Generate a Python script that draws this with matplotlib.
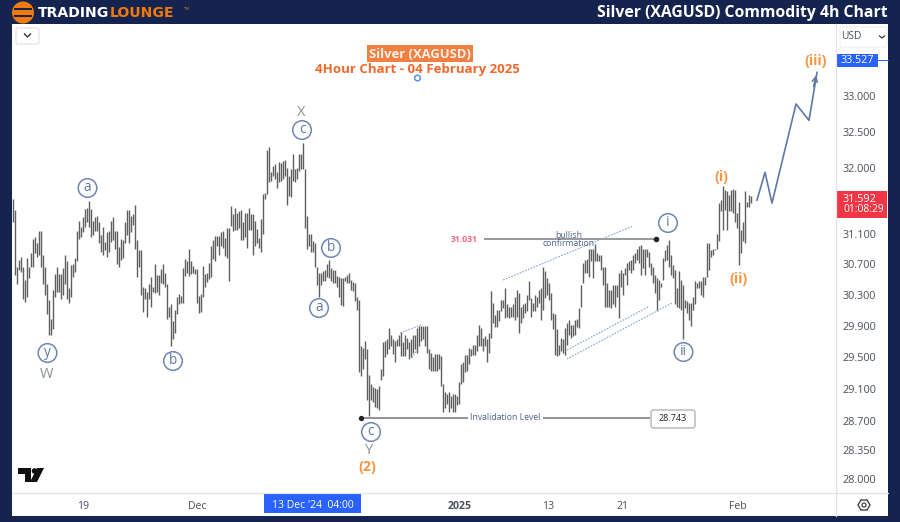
import numpy as np
import matplotlib
matplotlib.use("Agg")
import matplotlib.pyplot as plt
from matplotlib.patches import Circle, Rectangle, FancyBboxPatch, Polygon
from matplotlib.ticker import FixedLocator, FixedFormatter, NullLocator

# (high, low) price of each 4h bar
bars_nov = [(31.57,31.26),(31.42,30.56),(30.67,30.45),(30.76,30.63),(30.80,30.60),(30.67,30.25),(30.50,30.21),(30.79,30.28),
(30.67,30.52),(30.85,30.67),(31.04,30.67),(31.06,30.85),(30.98,30.80),(31.15,30.82),(31.15,30.67),(30.82,30.45),(30.67,30.30),
(30.45,30.06),(30.23,29.79),(29.99,29.79),(30.36,29.86),(30.57,30.28),(30.67,30.34),(30.58,30.34),(30.58,30.25),(30.65,30.30),
(30.82,30.45),(30.74,30.25),(30.39,30.19),(30.69,30.28),(30.71,30.54),(30.78,30.60),(31.15,30.74),(31.28,31.04),(31.20,31.06),
(31.33,31.13),(31.44,31.20),(31.46,31.26),(31.55,31.20),(31.44,31.06),(31.28,31.09),(31.33,31.15),(31.35,31.15),(31.26,30.98),
(31.09,30.87),(31.20,30.82),(31.00,30.89),(31.13,30.80),(31.15,30.87),(31.28,31.00),(31.33,31.02),(31.15,30.91),(31.15,30.71),
(30.93,30.67),(31.04,30.76),(31.02,30.78),(31.26,30.98),(31.42,31.09),(31.42,30.98),(31.35,31.13),(31.37,31.22),(31.50,30.91),
(31.02,30.54),(30.89,30.67),(30.89,30.30),(30.41,30.08),(30.39,30.25),(30.34,30.01),(30.45,30.25),(30.54,30.15),(30.41,30.34),
(30.71,30.32),(30.56,30.34),(30.56,30.30)]
bars_dec_a = [(30.64,30.46),(30.71,30.44),(30.59,30.40),(30.44,29.99),(30.14,30.01),(30.18,29.64),(29.97,29.73),(30.10,29.81),
(30.27,30.05),(30.31,30.18),(30.29,30.20),(30.66,30.20),(30.77,30.55),(30.74,30.59),(30.90,30.55),(30.74,30.57),(30.68,30.59),
(30.64,30.57),(30.64,30.20),(30.29,30.07),(30.31,30.08),(30.68,30.27),(30.57,30.40),(30.59,30.47),(30.72,30.51),(30.94,30.53),
(31.03,30.77),(31.08,30.74),(31.08,30.94),(31.08,30.83),(31.13,30.94),(31.14,30.92),(31.05,30.81),(31.19,30.79),(31.19,30.48),
(31.48,31.21),(31.37,31.14),(31.45,31.16),(31.39,31.16),(31.41,31.19),(31.43,31.03),(31.26,31.03),(31.38,31.07),(31.39,30.92),
(31.45,31.16),(31.37,31.16),(31.37,30.83),(31.28,30.94),(31.17,30.98),(31.05,30.92),(31.30,30.87),(31.64,31.10),(31.66,31.57),
(32.25,31.64),(32.29,31.80),(31.94,31.82),(32.03,31.89),(32.06,31.85),(31.94,31.73),(32.08,31.80),(32.07,31.82),(32.09,31.85),
(32.11,31.89),(32.00,31.50),(31.89,31.62),(31.98,31.60),(32.19,31.82),(31.98,31.80),(32.00,31.85),(32.19,31.96),(32.19,31.98),
(32.34,31.98),(31.98,31.19),(31.35,30.90),(31.10,30.94)]
bars_dec_b = [(31.10,30.87),(31.01,30.87),(30.99,30.67),(30.67,30.43),(30.59,30.28),(30.59,30.43),(30.61,30.48),(30.63,30.48),
(30.70,30.54),(30.76,30.52),(30.65,30.48),(30.63,30.46),(30.63,30.46),(30.55,30.41),(30.53,30.28),(30.52,30.17),(30.52,30.16),
(30.54,30.48),(30.56,30.46),(30.59,30.46),(30.49,30.37),(30.47,30.35),(30.46,30.22),(30.28,30.11),(30.24,29.31),(29.64,29.27),
(29.62,29.35),(29.71,29.48),(29.60,28.96),(29.28,28.76),(29.16,28.96),(29.12,28.94),(29.11,28.88),(29.10,28.86),(29.14,28.84),
(29.35,29.21),(29.69,29.27),(29.71,29.50),(29.73,29.54),(29.88,29.60),(29.79,29.64),(29.73,29.54),(29.71,29.44),(29.73,29.64),
(29.79,29.64),(29.82,29.52),(29.69,29.52),(29.78,29.52),(29.75,29.60),(29.69,29.48),(29.73,29.50),(29.78,29.56),(29.78,29.60),
(29.88,29.56),(29.90,29.64),(29.90,29.71),(29.90,29.73),(29.90,29.64),(29.90,29.56),(29.60,29.35),(29.56,29.33),(29.50,29.33),
(29.54,29.33),(29.54,29.33),(29.54,29.35),(29.52,29.14),(29.16,28.82),(29.06,28.86),(29.04,28.92),(29.06,28.82)]
bars_jan_a = [(29.02,28.86),(29.04,28.82),(29.04,28.82),(29.02,28.90),(29.19,28.92),(29.41,29.16),(29.44,29.19),(29.53,29.31),
(29.53,29.33),(29.62,29.41),(29.60,29.52),(29.65,29.53),(29.65,29.53),(29.79,29.58),(29.91,29.64),(29.88,29.64),(29.75,29.58),
(29.77,29.64),(29.73,29.44),(29.81,29.56),(30.35,29.75),(30.19,29.94),(30.04,29.89),(30.11,29.89),(30.11,29.96),(30.24,30.09),
(30.24,30.13),(30.39,30.00),(30.18,30.02),(30.15,30.00),(30.15,30.02),(30.18,30.02),(30.28,29.98),(30.37,30.02),(30.33,29.81),
(30.15,29.94),(30.18,30.00),(30.19,30.07),(30.30,30.09),(30.48,30.24),(30.26,30.02),(30.19,30.09),(30.30,30.09),(30.28,30.15),
(30.37,30.19),(30.39,29.98),(30.67,30.11),(30.61,30.26),(30.52,30.30),(30.46,30.24),(30.33,29.98),(30.07,29.86),(30.05,29.53),
(29.86,29.52),(29.66,29.53),(29.75,29.58),(29.73,29.56),(29.87,29.53),(29.94,29.66),(29.98,29.79),(29.91,29.75),(29.91,29.77),
(29.98,29.79),(29.99,29.89),(30.13,29.88),(30.43,30.15),(30.72,30.46),(30.76,30.59),(30.77,30.59),(30.91,30.54),(30.91,30.74),
(30.91,30.52),(30.97,30.74),(30.85,30.74),(30.83,30.74)]
bars_jan_b = [(30.82,30.63),(30.67,30.43),(30.67,30.15),(30.46,30.15),(30.37,30.15),(30.37,30.13),(30.43,30.18),(30.43,30.15),
(30.43,30.28),(30.59,30.00),(30.63,30.41),(30.59,30.30),(30.65,30.56),(30.72,30.43),(30.74,30.63),(30.76,30.59),(30.82,30.63),
(30.85,30.72),(30.91,30.76),(30.94,30.72),(30.96,30.56),(30.91,30.65),(30.91,30.56),(30.90,30.80),(30.87,30.67),(30.72,30.56),
(30.67,30.46),(30.56,30.33),(30.52,30.09),(30.50,30.24),(30.46,30.41),(30.79,30.50),(30.89,30.74),(30.96,30.76),(31.03,30.67),
(30.82,30.56),(30.69,30.52),(30.63,30.18),(30.39,30.15),(30.61,30.13),(30.50,30.11),(30.43,29.73),(30.24,30.13),(30.22,30.07),
(30.19,29.98),(30.19,29.90),(30.28,30.11),(30.48,30.18),(30.46,30.39),(30.48,30.39),(30.48,30.30),(30.54,30.28),(30.54,30.43),
(30.98,30.54),(30.98,30.63),(30.89,30.80),(30.91,30.82),(30.91,30.89),(31.11,30.91),(31.52,31.01),(31.56,31.41),(31.75,31.16),
(31.70,31.43),(31.68,31.16),(31.63,31.41),(31.70,31.41),(31.71,31.38),(31.70,31.27),(31.38,31.18),(31.54,30.69),(31.16,30.85),
(31.27,31.01),(31.68,30.98),(31.54,31.47),(31.63,31.47),(31.61,31.52)]

price_ticks = [28.0, 28.35, 28.7, 29.1, 29.5, 29.9, 30.3, 30.7, 31.1, 32.0, 32.5, 33.0]
date_labels = ["19", "Dec", "2025", "13", "21", "Feb"]
date_bars = [35, 92, 223.5, 267.5, 305, 362.5]
proj_bar = [372, 376, 379.5, 391.5, 398, 402]
proj_price = [31.56, 31.94, 31.52, 32.89, 32.66, 33.34]
invalidation = 28.743
confirmation = 31.031
target = 33.527
last_price = 31.592

NAVY = "#14244f"
BAR = "#5e5e5e"
WAVE = "#6f86b3"
WTXT = "#5e76a5"
ORG = "#f9943f"
plt.rcParams["font.family"] = ["Open Sans", "DejaVu Sans"]

fig = plt.figure(figsize=(9, 5.22), dpi=100, facecolor=NAVY)
W, H = 900, 522

# white panel in pixel coordinates
ov_bg = fig.add_axes([0, 0, 1, 1], zorder=0)
ov_bg.set_xlim(0, W); ov_bg.set_ylim(H, 0); ov_bg.axis("off")
ov_bg.add_patch(Rectangle((12, 24), 876, 492, fc="white", ec="none"))

ax = fig.add_axes([12/W, 1-493/H, (836-12)/W, (493-24)/H], zorder=1)
ax.patch.set_alpha(0)
for s in ax.spines.values():
    s.set_visible(False)
bars = bars_nov + bars_dec_a + bars_dec_b + bars_jan_a + bars_jan_b
highs = np.array([b[0] for b in bars])
lows = np.array([b[1] for b in bars])
xs = np.arange(len(bars))
ax.vlines(xs, lows, highs, color=BAR, lw=1.0, zorder=2)
ax.set_yscale("log")
ax.set_xlim(-0.5, 411.5)
ax.set_ylim(27.83, 34.04)
ax.yaxis.tick_right()
ax.yaxis.set_major_locator(FixedLocator(price_ticks))
ax.yaxis.set_major_formatter(FixedFormatter([f"{p:.3f}" for p in price_ticks]))
ax.yaxis.set_minor_locator(NullLocator())
ax.tick_params(axis="y", length=0, pad=5, labelsize=7.8, labelcolor="#4a4f5a")
ax.set_xticks(date_bars)
ax.set_xticklabels(date_labels)
ax.tick_params(axis="x", length=0, pad=5.5, labelsize=7.6, labelcolor="#4a4f5a")
ax.get_xticklabels()[2].set_fontweight("bold")

ax.hlines(invalidation, 174, 318.5, color="#777777", lw=1.1, zorder=1)
ax.hlines(confirmation, 235.5, 321.5, color="#888888", lw=1.2, zorder=1)
ax.plot([174], [invalidation], "o", ms=2.8, color="#222222", zorder=3)
ax.plot([321.5], [confirmation], "o", ms=3, color="#222222", zorder=3)
ax.plot(proj_bar, proj_price, color="#5f78a8", lw=1.2, zorder=3)
ax.annotate("", xy=(proj_bar[-1], proj_price[-1]), xytext=(proj_bar[-2] + 2, 33.1),
            arrowprops=dict(arrowstyle="->", color="#5f78a8", lw=1.2, mutation_scale=9), zorder=3)

# overlay for annotations and furniture
ov = fig.add_axes([0, 0, 1, 1], zorder=2)
ov.set_xlim(0, W); ov.set_ylim(H, 0); ov.axis("off"); ov.patch.set_alpha(0)

ov.plot([836, 836], [24, 516], color="#e0e3eb", lw=0.9)
ov.plot([12, 888], [493, 493], color="#e0e3eb", lw=0.9)

# channels
for (x0, y0, x1, y1) in [(503, 280, 633, 226), (567, 350, 648, 307), (567, 359, 672, 303),
                         (400, 333, 421, 325), (412, 358, 417, 350)]:
    ov.plot([x0, x1], [y0, y1], color="#8ea2cc", lw=0.8, ls=(0, (1.5, 1.2)))

def circ(x, y, s):
    ov.add_patch(Circle((x, y), 9.3, fc="white", ec=WAVE, lw=1.1, zorder=5))
    ov.text(x, y - 0.5, s, ha="center", va="center", fontsize=9.8, color=WTXT, zorder=6)

for x, y, s in [(87.5, 188, "a"), (47.5, 353, "y"), (173, 361, "b"), (302, 130, "c"), (331, 248, "b"),
                (319, 308, "a"), (371, 432, "c"), (668, 223, "i"), (683.5, 352, "ii")]:
    circ(x, y, s)
for x, y, s in [(47, 375, "W"), (301, 113, "X"), (369.5, 451, "Y")]:
    ov.text(x, y, s, ha="center", va="center", fontsize=10.5, color="#8a8f99")
for x, y, s in [(367.5, 467, "(2)"), (721.5, 177, "(i)"), (738.5, 279, "(ii)"), (816, 61, "(iii)")]:
    ov.text(x, y, s, ha="center", va="center", fontsize=10.2, color=ORG, fontweight="bold")

ov.text(464, 240, "31.031", ha="center", va="center", fontsize=6.2, color="#f4687c", fontweight="bold")
ov.text(569, 235, "bullish", ha="center", va="center", fontsize=6.2, color="#4a5f8f")
ov.text(569, 244, "confirmation", ha="center", va="center", fontsize=6.2, color="#4a5f8f")
ov.text(505.5, 418, "Invalidation Level", ha="center", va="center", fontsize=6.2, color="#4a5f8f",
        bbox=dict(fc="white", ec="none", pad=1.5))
ov.add_patch(FancyBboxPatch((651, 410), 44, 18, boxstyle="round,pad=0,rounding_size=2.5",
                            fc="white", ec="#a9adb5", lw=0.9))
ov.text(672.5, 418.7, "28.743", ha="center", va="center", fontsize=6.5, color="#222222")

# titles
ov.add_patch(Rectangle((367, 45), 106, 17, fc="#ef8044", ec="none"))
ov.text(420, 54, "Silver (XAGUSD)", ha="center", va="center", fontsize=9.4, color="#fdf1e8", fontweight="bold")
ov.text(417.5, 69, "4Hour Chart - 04 February 2025", ha="center", va="center", fontsize=9.5,
        color="#f2672b", fontweight="bold")
ov.add_patch(Circle((417.5, 78), 2.8, fc="white", ec="#5a8df2", lw=1.1))

# price-scale boxes
ov.add_patch(Rectangle((836, 54), 42, 13, fc="#2962ff", ec="none"))
ov.plot([878, 888], [59.5, 59.5], color="#2962ff", lw=0.7)
ov.text(857, 60.5, f"{target:.3f}", ha="center", va="center", fontsize=7.8, color="white")
ov.add_patch(Rectangle((836, 191), 51, 27, fc="#f23645", ec="none"))
ov.text(843, 199, f"{last_price:.3f}", ha="left", va="center", fontsize=7.8, color="white")
ov.text(843, 210, "01:08:29", ha="left", va="center", fontsize=7.4, color="white")

# time-scale highlighted label
ov.add_patch(Rectangle((264, 493), 97, 20, fc="#2962ff", ec="none"))
ov.text(312.5, 505, "13 Dec '24  04:00", ha="center", va="center", fontsize=7.5, color="white")

# buttons
ov.add_patch(FancyBboxPatch((16, 28), 23, 16, boxstyle="round,pad=0,rounding_size=2",
                            fc="white", ec="#e0e3eb", lw=0.9))
ov.plot([24.5, 27.5, 30.5], [34, 37, 34], color="#333333", lw=1)
ov.add_patch(FancyBboxPatch((840, 27), 47, 20, boxstyle="round,pad=0,rounding_size=2",
                            fc="white", ec="#eceef2", lw=0.8))
ov.text(851, 36.5, "USD", ha="center", va="center", fontsize=7.4, color="#4a4f5a")
ov.plot([879.5, 882, 884.5], [36, 38, 36], color="#333333", lw=0.9)
ov.add_patch(Polygon([(858, 505), (861, 500), (867, 500), (870, 505), (867, 510), (861, 510)],
                     fc="white", ec="#444444", lw=1))
ov.add_patch(Circle((864, 505), 2, fc="white", ec="#444444", lw=0.9))

# TradingView mark
ov.add_patch(Polygon([(18, 468), (31, 468), (31, 482), (25, 482), (25, 474), (18, 474)], fc="#111111", ec="none"))
ov.add_patch(Circle((34.5, 471), 2.8, fc="#111111", ec="none"))
ov.add_patch(Polygon([(37, 468), (44, 468), (37, 482), (30, 482)], fc="#111111", ec="none"))

# header
ov.add_patch(Circle((23, 12.5), 11, fc="#f27a0c", ec="none"))
ov.add_patch(Rectangle((14, 8), 18, 2, fc=NAVY, ec="none"))
ov.add_patch(Rectangle((14, 15), 18, 2, fc=NAVY, ec="none"))
ov.text(37.5, 12.7, "TRADING", ha="left", va="center", fontsize=10.1, fontweight="bold", color="white",
        family="DejaVu Sans")
ov.text(110, 12.7, "LOUNGE", ha="left", va="center", fontsize=10.1, fontweight="bold", color="#f27a0c",
        family="DejaVu Sans")
ov.text(184, 8.5, "TM", ha="left", va="center", fontsize=3, color="#f27a0c")
ov.text(888, 13, "Silver (XAGUSD) Commodity 4h Chart", ha="right", va="center", fontsize=11.3,
        fontweight="bold", color="white")

fig.savefig("out.png", dpi=100, facecolor=NAVY)
